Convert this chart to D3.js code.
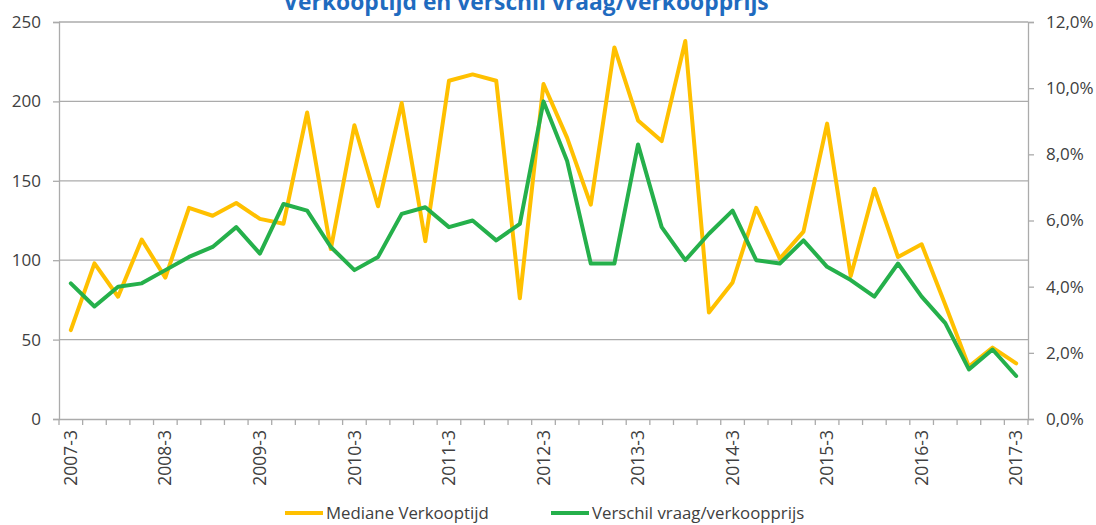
<!DOCTYPE html>
<html>
<head>
<meta charset="utf-8">
<script src="https://cdn.jsdelivr.net/npm/d3@7"></script>
<style>
  html, body { margin: 0; padding: 0; background: #fff; }
  svg { display: block; font-family: "Open Sans", sans-serif; }
</style>
</head>
<body>
<svg id="chart" width="1096" height="525"></svg>
<script>
// ---- data ----
const categories = [
  "2007-3","2007-4","2008-1","2008-2","2008-3","2008-4","2009-1","2009-2","2009-3","2009-4",
  "2010-1","2010-2","2010-3","2010-4","2011-1","2011-2","2011-3","2011-4","2012-1","2012-2",
  "2012-3","2012-4","2013-1","2013-2","2013-3","2013-4","2014-1","2014-2","2014-3","2014-4",
  "2015-1","2015-2","2015-3","2015-4","2016-1","2016-2","2016-3","2016-4","2017-1","2017-2","2017-3"
];
const medianeVerkooptijd = [
  56, 98, 77, 113, 89, 133, 128, 136, 126, 123,
  193, 107, 185, 134, 199, 112, 213, 217, 213, 76,
  211, 177, 135, 234, 188, 175, 238, 67, 86, 133,
  101, 118, 186, 90, 145, 102, 110, 72, 33, 45, 35
];
const verschilVraagVerkoopprijs = [
  4.1, 3.4, 4.0, 4.1, 4.5, 4.9, 5.2, 5.8, 5.0, 6.5,
  6.3, 5.2, 4.5, 4.9, 6.2, 6.4, 5.8, 6.0, 5.4, 5.9,
  9.6, 7.8, 4.7, 4.7, 8.3, 5.8, 4.8, 5.6, 6.3, 4.8,
  4.7, 5.4, 4.6, 4.2, 3.7, 4.7, 3.7, 2.9, 1.5, 2.1, 1.3
];
const leftTicks = [0, 50, 100, 150, 200, 250];
const rightTicks = [0, 2, 4, 6, 8, 10, 12];
const xLabelEvery = 4;
const titleText = "Verkooptijd en verschil vraag/verkoopprijs";
const seriesNames = ["Mediane Verkooptijd", "Verschil vraag/verkoopprijs"];

// ---- layout ----
const svg = d3.select("#chart");
const L = 59, R = 1028, T = 22, B = 419;
const gridColor = "#ABABAB";
const textColor = "#404040";
const yellow = "#FFC000";
const green = "#25B04B";

const x = d3.scaleBand().domain(categories).range([L, R]).padding(0);
const cx = c => x(c) + x.bandwidth() / 2;
const yL = d3.scaleLinear().domain([0, 250]).range([B, T]);
const yR = d3.scaleLinear().domain([0, 12]).range([B, T]);

// gridlines
svg.append("g").selectAll("line").data(leftTicks.filter(d => d > 0)).join("line")
  .attr("x1", L).attr("x2", R)
  .attr("y1", d => yL(d)).attr("y2", d => yL(d))
  .attr("stroke", gridColor).attr("stroke-width", 1.3);

// left axis
const gLeft = svg.append("g").attr("transform", `translate(${L},0)`)
  .call(d3.axisLeft(yL).tickValues(leftTicks).tickSize(6).tickPadding(12).tickFormat(d3.format("d")));
gLeft.select(".domain").attr("stroke", gridColor).attr("stroke-width", 1.3);
gLeft.selectAll(".tick line").attr("stroke", gridColor).attr("stroke-width", 1.3);
gLeft.selectAll(".tick text").attr("fill", textColor).style("font-size", "17px").attr("font-family", "Open Sans");

// right axis
const gRight = svg.append("g").attr("transform", `translate(${R},0)`)
  .call(d3.axisRight(yR).tickValues(rightTicks).tickSize(6).tickPadding(12)
    .tickFormat(d => d3.format(".1f")(d).replace(".", ",") + "%"));
gRight.select(".domain").attr("stroke", gridColor).attr("stroke-width", 1.3);
gRight.selectAll(".tick line").attr("stroke", gridColor).attr("stroke-width", 1.3);
gRight.selectAll(".tick text").attr("fill", textColor).style("font-size", "17px").attr("font-family", "Open Sans");

// bottom axis (labels)
const gBottom = svg.append("g").attr("transform", `translate(0,${B})`)
  .call(d3.axisBottom(x).tickValues(categories.filter((d, i) => i % xLabelEvery === 0)).tickSize(0));
gBottom.select(".domain").attr("stroke", gridColor).attr("stroke-width", 1.3);
gBottom.selectAll(".tick text")
  .attr("fill", textColor).style("font-size", "17.5px").attr("font-family", "Open Sans")
  .attr("text-anchor", "end")
  .attr("transform", "rotate(-90)")
  .attr("x", -11).attr("y", 0).attr("dy", "0.35em");

// category boundary tick marks
const boundaries = categories.map(c => x(c)).concat([R]);
svg.append("g").selectAll("line").data(boundaries).join("line")
  .attr("x1", d => d).attr("x2", d => d)
  .attr("y1", B).attr("y2", B + 6)
  .attr("stroke", gridColor).attr("stroke-width", 1.3);

// lines
const lineL = d3.line().x((d, i) => cx(categories[i])).y(d => yL(d));
const lineR = d3.line().x((d, i) => cx(categories[i])).y(d => yR(d));
svg.append("path").datum(medianeVerkooptijd).attr("d", lineL)
  .attr("fill", "none").attr("stroke", yellow).attr("stroke-width", 4)
  .attr("stroke-linejoin", "round").attr("stroke-linecap", "round");
svg.append("path").datum(verschilVraagVerkoopprijs).attr("d", lineR)
  .attr("fill", "none").attr("stroke", green).attr("stroke-width", 4)
  .attr("stroke-linejoin", "round").attr("stroke-linecap", "round");

// title (clipped at top as in the reference)
svg.append("text").attr("x", 526).attr("y", 9.5)
  .attr("text-anchor", "middle").attr("font-weight", "bold")
  .style("font-size", "22.8px").attr("fill", "#1F6BBF").text(titleText);

// legend
const legend = [
  { name: seriesNames[0], color: yellow, x0: 285 },
  { name: seriesNames[1], color: green, x0: 551 }
];
const lg = svg.append("g").selectAll("g").data(legend).join("g");
lg.append("line").attr("x1", d => d.x0).attr("x2", d => d.x0 + 38)
  .attr("y1", 513).attr("y2", 513).attr("stroke", d => d.color).attr("stroke-width", 4);
lg.append("text").attr("x", d => d.x0 + 41).attr("y", 513).attr("dy", "0.35em")
  .attr("fill", textColor).style("font-size", "16.8px").text(d => d.name);
</script>
</body>
</html>
